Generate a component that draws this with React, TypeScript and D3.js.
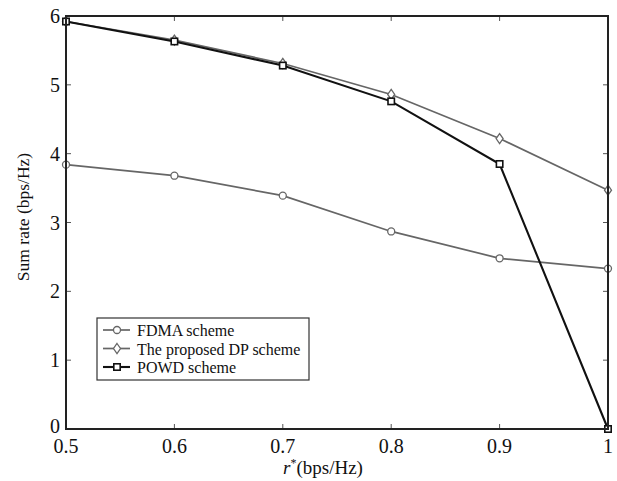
import React from "react";
import * as d3 from "d3";

const xValues = [0.5, 0.6, 0.7, 0.8, 0.9, 1.0];
const fdma = [3.84, 3.68, 3.39, 2.87, 2.48, 2.33];
const dp = [5.92, 5.65, 5.31, 4.86, 4.22, 3.47];
const powd = [5.92, 5.63, 5.28, 4.76, 3.85, 0];
const xTicks = [0.5, 0.6, 0.7, 0.8, 0.9, 1];
const yTicks = [0, 1, 2, 3, 4, 5, 6];
const xTickLabels = ["0.5", "0.6", "0.7", "0.8", "0.9", "1"];
const seriesNames = ["FDMA scheme", "The proposed DP scheme", "POWD scheme"];

const W = 617, H = 481;
const L = 66, R = 608, T = 16, B = 429;
const fs = { fontFamily: "'Liberation Serif'" };

export default function App() {
  const x = d3.scaleLinear().domain([0.5, 1]).range([L, R]);
  const y = d3.scaleLinear().domain([0, 6]).range([B, T]);
  const line = d3.line<number>().x((_, i) => x(xValues[i])).y((d) => y(d));
  const gray = "#666";
  const black = "#111";

  const circle = (cx: number, cy: number, c: string, k: string) => (
    <circle key={k} cx={cx} cy={cy} r={3.5} fill="white" stroke={c} strokeWidth={1.3} />
  );
  const diamond = (cx: number, cy: number, c: string, k: string) => (
    <path key={k} d={`M${cx},${cy - 5}L${cx + 3.5},${cy}L${cx},${cy + 5}L${cx - 3.5},${cy}Z`} fill="white" stroke={c} strokeWidth={1.3} />
  );
  const square = (cx: number, cy: number, c: string, k: string) => (
    <rect key={k} x={cx - 3.2} y={cy - 3.2} width={6.4} height={6.4} fill="white" stroke={c} strokeWidth={1.6} />
  );

  const series = [
    { data: fdma, color: gray, marker: circle, w: 1.7 },
    { data: dp, color: gray, marker: diamond, w: 1.7 },
    { data: powd, color: black, marker: square, w: 2.1 },
  ];

  return (
    <svg width={W} height={H} style={{ position: "absolute", left: 0, top: 0, background: "white" }}>
      <rect x={0} y={0} width={W} height={H} fill="white" />
      {xTicks.map((t, i) => (
        <g key={"xt" + i}>
          <line x1={x(t)} x2={x(t)} y1={B} y2={B - 5} stroke="#555" />
          <line x1={x(t)} x2={x(t)} y1={T} y2={T + 5} stroke="#555" />
          <text x={x(t)} y={B + 24} fontSize={20} textAnchor="middle" fill="#111" style={fs}>{xTickLabels[i]}</text>
        </g>
      ))}
      {yTicks.map((t, i) => (
        <g key={"yt" + i}>
          <line x1={L} x2={L + 5} y1={y(t)} y2={y(t)} stroke="#555" />
          <line x1={R} x2={R - 5} y1={y(t)} y2={y(t)} stroke="#555" />
          <text x={L - 6} y={y(t) + (t === 0 ? 4 : 7)} fontSize={20} textAnchor="end" fill="#111" style={fs}>{t}</text>
        </g>
      ))}
      {series.map((s, si) => (
        <g key={"s" + si}>
          <path d={line(s.data) || ""} fill="none" stroke={s.color} strokeWidth={s.w} />
          {s.data.map((v, i) => s.marker(x(xValues[i]), y(v), s.color, "m" + si + "-" + i))}
        </g>
      ))}
      <rect x={L} y={T} width={R - L} height={B - T} fill="none" stroke="#222" strokeWidth={2} />
      <rect x={97} y={318} width={212} height={62} fill="white" stroke="#333" strokeWidth={1.2} />
      {series.map((s, si) => {
        const ly = 330 + si * 18.5;
        return (
          <g key={"lg" + si}>
            <line x1={103} x2={130} y1={ly} y2={ly} stroke={s.color} strokeWidth={s.w} />
            {s.marker(117, ly, s.color, "lm" + si)}
            <text x={137} y={ly + 6} fontSize={16} fill="#111" style={fs}>{seriesNames[si]}</text>
          </g>
        );
      })}
      <text x={323} y={474} fontSize={19} textAnchor="middle" fill="#111" style={fs}>
        <tspan fontStyle="italic">r</tspan>
        <tspan fontSize={12} dy={-7}>*</tspan>
        <tspan dy={7}>(bps/Hz)</tspan>
      </text>
      <text transform={`translate(29,217) rotate(-90)`} fontSize={17.5} textAnchor="middle" fill="#111" style={fs}>Sum rate (bps/Hz)</text>
    </svg>
  );
}
